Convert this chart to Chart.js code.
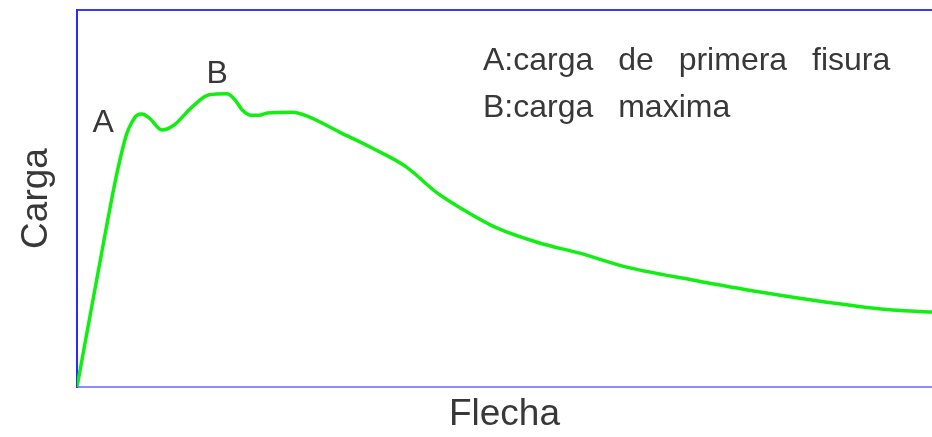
<!DOCTYPE html>
<html>
<head>
<meta charset="utf-8">
<script src="https://cdn.jsdelivr.net/npm/chart.js@4/dist/chart.umd.min.js"></script>
<style>
    html, body { margin: 0; padding: 0; background: #fff; }
    #wrap { width: 932px; height: 437px; }
</style>
</head>
<body>
<div id="wrap"><canvas id="graficoCarga"></canvas></div>
<script>
// flecha (deflexion) y carga
const flecha = [0, 3.16, 4.68, 5.85, 6.44, 7.03, 7.61, 8.43, 9.95, 11.36, 13.47, 15.46, 17.56, 18.5, 19.32, 20.4, 21.3, 22.25, 25.2, 27.2, 30.7, 34.5, 38.5, 42.0, 44.7, 49.1, 54.1, 58.8, 64.3, 72.0, 79.9, 87.7, 95.4, 100];
const carga = [0, 39.0, 56.8, 67.4, 70.3, 72.1, 72.4, 71.4, 68.2, 69.5, 74.3, 77.5, 77.8, 76.1, 73.5, 72.1, 72.1, 72.7, 72.9, 71.6, 67.6, 63.4, 58.4, 51.7, 47.7, 42.2, 38.2, 35.5, 31.8, 28.4, 25.2, 22.5, 20.4, 19.9];
const leyenda = ["A:carga de primera fisura", "B:carga maxima"];
const puntoA = 6;   // indice de la primera fisura
const puntoB = 11;  // indice de la carga maxima

const puntos = flecha.map((x, i) => ({ x: x, y: carga[i] }));

const fuente = "'Liberation Sans', Arial, sans-serif";
const colorTexto = "#383838";

const anotaciones = {
    id: "anotaciones",
    afterDatasetsDraw(chart) {
        const ctx = chart.ctx;
        const xs = chart.scales.x;
        const ys = chart.scales.y;
        ctx.save();
        ctx.fillStyle = colorTexto;
        ctx.font = "32px " + fuente;
        ctx.textAlign = "center";
        ctx.textBaseline = "alphabetic";

        // letras junto a los puntos
        const ax = xs.getPixelForValue(flecha[puntoA]);
        const ay = ys.getPixelForValue(carga[puntoA]);
        ctx.fillText("A", ax - 39, ay + 18);

        const bx = xs.getPixelForValue(flecha[puntoB]);
        const by = ys.getPixelForValue(carga[puntoB]);
        ctx.fillText("B", bx + 8, by - 12);

        // leyenda de texto
        ctx.textAlign = "left";
        ctx.wordSpacing = "16px";
        leyenda.forEach((t, i) => {
            ctx.fillText(t, 483, 70 + i * 47);
        });
        ctx.restore();
    }
};

new Chart(document.getElementById("graficoCarga"), {
    type: "line",
    data: {
        datasets: [{
            data: puntos,
            borderColor: "#11ee11",
            borderWidth: 3.5,
            pointRadius: 0,
            cubicInterpolationMode: "monotone",
            fill: false
        }]
    },
    options: {
        responsive: true,
        maintainAspectRatio: false,
        animation: false,
        layout: { padding: 0 },
        plugins: {
            legend: { display: false },
            tooltip: { enabled: false }
        },
        scales: {
            x: {
                type: "linear",
                min: 0,
                max: 100,
                grid: { display: false },
                ticks: { display: false },
                border: { color: "#8c8cff", width: 2 },
                title: {
                    display: true,
                    text: "Flecha",
                    color: colorTexto,
                    font: { family: fuente, size: 37 },
                    padding: { top: 0, bottom: 0 }
                },
                afterFit: s => { s.height = 50; }
            },
            xTop: {
                type: "linear",
                position: "top",
                min: 0,
                max: 100,
                grid: { display: false },
                ticks: { display: false },
                border: { color: "#3a3aff", width: 2 },
                afterFit: s => { s.height = 10; }
            },
            y: {
                min: 0,
                max: 100,
                grid: { display: false },
                ticks: { display: false },
                border: { color: "#2b2bff", width: 2 },
                title: {
                    display: true,
                    text: "Carga",
                    color: colorTexto,
                    font: { family: fuente, size: 37 },
                    padding: { top: 15, bottom: 0 }
                },
                afterFit: s => { s.width = 77; }
            }
        }
    },
    plugins: [anotaciones]
});
</script>
</body>
</html>
